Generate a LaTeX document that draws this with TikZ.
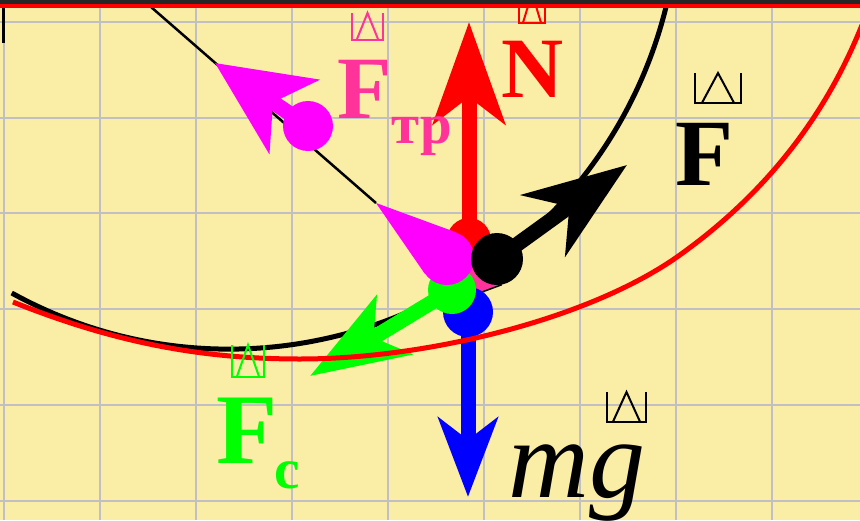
\documentclass[tikz,border=0pt]{standalone}
\usepackage{fontspec}
\setmainfont{Liberation Serif}
\usetikzlibrary{arrows.meta,calc}
\definecolor{paper}{HTML}{FAEDA6}
\definecolor{gridgray}{HTML}{C0C0C4}
\definecolor{ftrpink}{HTML}{FF3399}
\definecolor{fuchsia}{HTML}{FF00FF}
\definecolor{lime}{HTML}{00FF00}
\tikzset{
  pics/vecmark/.style 2 args={code={
    \draw[line width=2pt] (0,0) -- (0,#2) -- (#1,#2) -- (#1,0);
    \draw[line width=2pt] ({0.15*#1},#2) -- ({0.5*#1},0) -- ({0.85*#1},#2);
  }}
}
\begin{document}
\begin{tikzpicture}[
    x=1pt,y=-1pt,
    gridline/.style={gridgray,line width=2pt},
    dot/.style={circle,inner sep=0pt,minimum size=#1},
    force/.style n args={3}{line width=15pt,-{Stealth[length=#1,width=#2,inset=#3]}},
    lbl/.style={inner sep=0pt,anchor=base west}
  ]
    \useasboundingbox (0,0) rectangle (860,520);
    \fill[paper] (0,0) rectangle (860,520);
    \foreach \gx in {0,...,8}
      \draw[gridline] ({3.5+96.06*\gx},0) -- ++(0,520);
    \foreach \gy in {0,...,5}
      \draw[gridline] (0,{21.7+95.8*\gy}) -- ++(860,0);
    \begin{scope}
      \clip (0,0) rectangle (860,520);
      \draw[line width=5pt] (11.7,293) arc[start angle=-118.9,end angle=-3,radius=450pt];
    \end{scope}
    \coordinate (slopetop) at (143,0);
    \coordinate (conetip) at (376,203);
    \draw[line width=2.5pt] (slopetop) -- (conetip);
    % body
    \fill[ftrpink,draw=black,line width=1.5pt] (501,285) -- (455,302) -- (442,267) -- (488,250) -- cycle;
    % forces
    \node[dot=50pt,fill=blue] (mgbase) at (468,312) {};
    \coordinate (mgtip) at (468,497);
    \draw[force={79pt}{59pt}{22pt},blue] (mgbase.center) -- (mgtip);
    \node[dot=44pt,fill=red] (Nbase) at (469,240) {};
    \coordinate (Ntip) at (469,22);
    \draw[force={102pt}{72pt}{27pt},red] (Nbase.center) -- (Ntip);
    \node[dot=48pt,fill=lime] (Fcbase) at (452,290) {};
    \coordinate (Fctip) at (310,376);
    \draw[force={98pt}{68pt}{24pt},lime] (Fcbase.center) -- (Fctip);
    \node[dot=54pt,fill=fuchsia] (cone) at (447,258) {};
    \fill[fuchsia] (conetip) -- (tangent cs:node=cone,point={(conetip)},solution=1)
      -- (tangent cs:node=cone,point={(conetip)},solution=2) -- cycle;
    \node[dot=50pt,fill=fuchsia] (Ftrbase) at (308,126) {};
    \coordinate (Ftrtip) at (215,63);
    \draw[force={95pt}{88pt}{25pt},fuchsia] (Ftrbase.center) -- (Ftrtip);
    \node[dot=52pt,fill=black] (Fbase) at (497,259) {};
    \coordinate (Ftip) at (627,165);
    \draw[force={103pt}{75pt}{32pt}] (Fbase.center) -- (Ftip);
    \draw[red,line width=5pt] (13,302) .. controls (113,342) and (200,359) .. (300,359)
      .. controls (425,359) and (587,320) .. (677,257)
      .. controls (762,197) and (824,120) .. (862,25);
    % labels
    \node[lbl,red] (Nlbl) at (501,97) {\fontsize{86}{86}\selectfont\bfseries N};
    \node[lbl,ftrpink] (Ftrlbl) at (337,118)
      {\fontsize{89}{89}\selectfont\bfseries F\raisebox{-25pt}{\fontsize{57}{57}\selectfont тр}};
    \node[lbl] (Flbl) at (675,185) {\fontsize{95}{95}\selectfont\bfseries F};
    \node[lbl,lime] (Fclbl) at (216,463)
      {\fontsize{100}{100}\selectfont\bfseries F\kern-3pt\raisebox{-25pt}{\fontsize{57}{57}\selectfont c}};
    \node[lbl] (mglbl) at (508,497) {\fontsize{112}{112}\selectfont\itshape mg};
    \pic[color=red] at (519,-7) {vecmark={26}{30}};
    \pic[color=ftrpink] at (352,13) {vecmark={31}{27}};
    \pic at (695,73) {vecmark={46}{30}};
    \pic[color=lime] at (232,345) {vecmark={32}{32}};
    \pic at (607,392) {vecmark={39}{30}};
    % top edge
    \fill[black!85] (0,0) rectangle (860,4);
    \fill[red] (0,4) rectangle (860,7.5);
    \draw[line width=3pt] (3.5,7.5) -- (3.5,43);
  \end{tikzpicture}
\end{document}
